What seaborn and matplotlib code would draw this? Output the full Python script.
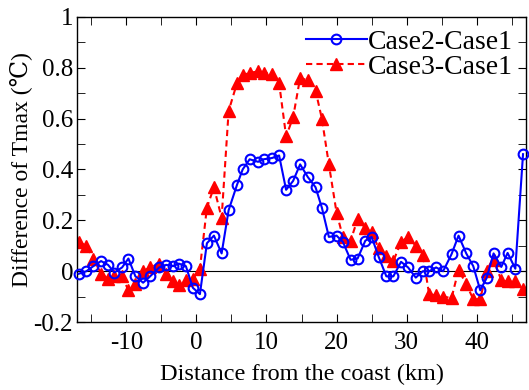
import numpy as np
import pandas as pd
import matplotlib
matplotlib.use("Agg")
import matplotlib.pyplot as plt
from matplotlib.ticker import MultipleLocator, FuncFormatter
import seaborn as sns

# distance from the coast (km) of each grid point
distance = [-16.8, -15.7, -14.7, -13.6, -12.6, -11.7, -10.6, -9.7, -8.7, -7.6,
            -6.6, -5.3, -4.3, -3.3, -2.5, -1.5, -0.5, 0.5, 1.5, 2.5,
            3.6, 4.6, 5.8, 6.6, 7.6, 8.8, 9.6, 10.8, 11.8, 12.8,
            13.8, 14.8, 15.9, 17.0, 17.9, 18.9, 20.0, 20.9, 22.0, 23.0,
            24.1, 25.0, 26.0, 27.1, 28.1, 29.2, 30.2, 31.3, 32.3, 33.2,
            34.2, 35.2, 36.4, 37.4, 38.5, 39.5, 40.5, 41.4, 42.4, 43.5,
            44.4, 45.5, 46.6]

# Case2 - Case1
case2 = [-0.01, 0.0, 0.02, 0.04, 0.025, -0.005, 0.015, 0.05, -0.02, -0.045,
         -0.02, 0.015, 0.025, 0.02, 0.03, 0.02, -0.065, -0.09, 0.11, 0.14,
         0.07, 0.24, 0.34, 0.40, 0.44, 0.43, 0.44, 0.445, 0.455, 0.32,
         0.355, 0.42, 0.37, 0.33, 0.25, 0.135, 0.14, 0.115, 0.045, 0.05,
         0.12, 0.135, 0.057, -0.02, -0.02, 0.037, 0.015, -0.025, 0.0, 0.0,
         0.015, 0.0, 0.067, 0.14, 0.07, 0.02, -0.075, -0.027, 0.07, 0.017,
         0.072, 0.01, 0.46]

# Case3 - Case1
case3 = [0.115, 0.10, 0.05, -0.01, -0.03, -0.02, -0.02, -0.075, -0.05, 0.0,
         0.015, 0.03, -0.01, -0.04, -0.055, -0.035, -0.03, 0.01, 0.25, 0.33,
         0.21, 0.63, 0.74, 0.77, 0.78, 0.785, 0.78, 0.775, 0.74, 0.53,
         0.605, 0.76, 0.75, 0.71, 0.60, 0.42, 0.23, 0.135, 0.12, 0.205,
         0.17, 0.155, 0.09, 0.06, 0.04, 0.115, 0.135, 0.10, 0.065, -0.09,
         -0.095, -0.10, -0.105, 0.005, -0.05, -0.11, -0.11, 0.0, 0.045, -0.035,
         -0.04, -0.04, -0.07]

df = pd.DataFrame({"distance": distance, "case2": case2, "case3": case3})

plt.rcParams['font.family'] = ['Liberation Serif', 'DejaVu Serif', 'DejaVu Sans']
plt.rcParams['axes.unicode_minus'] = False

fig = plt.figure(figsize=(5.29, 3.9), dpi=100)
ax = fig.add_axes([0.146, 0.174, 0.848, 0.783])

ax.axhline(0, color='black', lw=0.8, zorder=1)

sns.lineplot(data=df, x="distance", y="case2", ax=ax, sort=False, errorbar=None,
             color='blue', lw=1.5, marker='o', markersize=7,
             markerfacecolor='none', markeredgecolor='blue', markeredgewidth=1.5,
             label='Case2-Case1', clip_on=False, zorder=3)
sns.lineplot(data=df, x="distance", y="case3", ax=ax, sort=False, errorbar=None,
             color='red', lw=1.5, linestyle=(0, (3, 2)), marker='^', markersize=8,
             markerfacecolor='red', markeredgecolor='red', markeredgewidth=1,
             label='Case3-Case1', zorder=2)

ax.set_xlim(-17, 47)
ax.set_ylim(-0.2, 1)
ax.xaxis.set_major_locator(MultipleLocator(10))
ax.xaxis.set_minor_locator(MultipleLocator(5))
ax.yaxis.set_major_locator(MultipleLocator(0.2))
ax.yaxis.set_minor_locator(MultipleLocator(0.1))
ax.yaxis.set_major_formatter(FuncFormatter(lambda v, p: '%g' % round(v, 2)))
ax.tick_params(which='both', direction='in', top=True, right=True, labelsize=18,
               length=6, pad=3)
ax.tick_params(axis='x', which='both', pad=7)
for s in ax.spines.values():
    s.set_linewidth(1)

ax.set_xlabel('Distance from the coast (km)', fontsize=17.5, labelpad=7)
ax.set_ylabel('Difference of Tmax (\u2103)', fontsize=17, labelpad=1)

ax.legend(loc='upper right', frameon=False, fontsize=20, handlelength=2.2,
          handletextpad=0.05, labelspacing=0.0, borderaxespad=0.2,
          borderpad=0.25, numpoints=1)

fig.savefig('out.png', dpi=100)
